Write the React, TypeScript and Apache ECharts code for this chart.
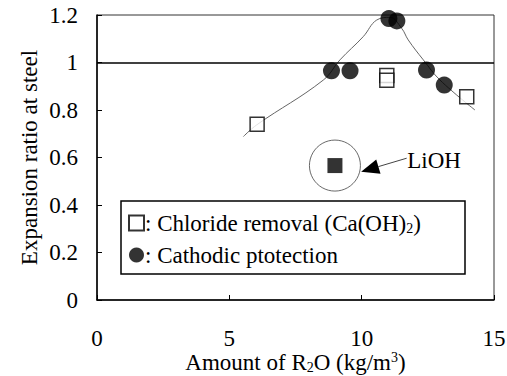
import React, { useEffect, useRef } from "react";
import * as echarts from "echarts";

const chlorideRemoval: [number, number][] = [
  [6.05, 0.74],
  [10.95, 0.945],
  [10.95, 0.925],
  [13.97, 0.856],
];
const cathodicProtection: [number, number][] = [
  [8.86, 0.965],
  [9.56, 0.965],
  [11.03, 1.185],
  [11.33, 1.175],
  [12.45, 0.968],
  [13.12, 0.905],
];
const lioh: [number, number][] = [[8.99, 0.566]];
const trendCurve: [number, number][] = [
  [5.53, 0.688],
  [6.03, 0.737],
  [8.55, 0.926],
  [9.18, 1.011],
  [10.06, 1.109],
  [10.57, 1.179],
  [11.07, 1.19],
  [11.51, 1.144],
  [11.76, 1.095],
  [12.33, 1.011],
  [12.96, 0.926],
  [14.28, 0.8],
];
const referenceLevel = 1;
const liohArrowTail: [number, number] = [11.7, 0.597];
const liohArrowTip: [number, number] = [9.98, 0.54];
const liohLabelPos: [number, number] = [11.72, 0.589];
const xTicks = [0, 5, 10, 15];
const yTicks = [0, 0.2, 0.4, 0.6, 0.8, 1, 1.2];

const FONT = "Liberation Serif";
const FS = 23;

const richStyles = {
  n: { fontFamily: FONT, fontSize: FS, lineHeight: 24, color: "#000" },
  sub: { fontFamily: FONT, fontSize: 14, verticalAlign: "bottom", lineHeight: 9, color: "#000" },
  sup: { fontFamily: FONT, fontSize: 14, verticalAlign: "top", lineHeight: 9, color: "#000" },
};

export default function App() {
  const ref = useRef<HTMLDivElement>(null);
  useEffect(() => {
    document.body.style.margin = "0";
    document.body.style.overflow = "hidden";
    if (!ref.current) return;
    const chart = echarts.init(ref.current, undefined, { renderer: "svg" });
    const option: any = {
      animation: false,
      backgroundColor: "#fff",
      textStyle: { fontFamily: FONT },
      grid: {
        left: 97,
        right: 13,
        top: 15,
        bottom: 76,
        containLabel: false,
        outerBoundsMode: "none",
        show: true,
        borderColor: "#333",
        borderWidth: 1,
      },
      legend: {
        left: 122,
        top: 211,
        orient: "vertical",
        padding: [0, 0, 0, 6],
        itemGap: 8,
        itemWidth: 15,
        itemHeight: 15,
        z: 8,
        data: [
          { name: "Chloride removal", icon: "rect" },
          { name: "Cathodic ptotection", icon: "circle" },
        ],
        formatter: (name: string) =>
          name === "Chloride removal"
            ? "{n|: Chloride removal (Ca(OH)}{sub|2}{n|)}"
            : "{n|: Cathodic ptotection}",
        textStyle: {
          fontFamily: FONT,
          fontSize: FS,
          color: "#000",
          lineHeight: 24,
          padding: [0, 0, 0, -4],
          rich: richStyles,
        },
      },
      xAxis: {
        type: "value",
        min: xTicks[0],
        max: xTicks[xTicks.length - 1],
        interval: 5,
        splitLine: { show: false },
        axisLine: { lineStyle: { color: "#000", width: 1.5 } },
        axisTick: { inside: true, length: 5, lineStyle: { color: "#000" } },
        axisLabel: { margin: 29, lineHeight: 18, fontFamily: FONT, fontSize: FS, color: "#000" },
        name: "{n|Amount of R}{sub|2}{n|O (kg/m}{sup|3}{n|)}",
        nameLocation: "middle",
        nameGap: 50,
        nameMoveOverlap: false,
        nameTextStyle: {
          fontFamily: FONT,
          fontSize: FS,
          color: "#000",
          lineHeight: 24,
          rich: richStyles,
        },
      },
      yAxis: {
        type: "value",
        min: yTicks[0],
        max: yTicks[yTicks.length - 1],
        interval: 0.2,
        splitLine: { show: false },
        axisLine: { show: true, lineStyle: { color: "#000", width: 1.5 } },
        axisTick: { show: true, inside: true, length: 5, lineStyle: { color: "#000" } },
        axisLabel: {
          margin: 19,
          fontFamily: FONT,
          fontSize: FS,
          color: "#000",
          formatter: (v: number) => String(Math.round(v * 10) / 10),
        },
        name: "Expansion ratio at steel",
        nameLocation: "middle",
        nameRotate: 90,
        nameGap: 56,
        nameMoveOverlap: false,
        nameTextStyle: { fontFamily: FONT, fontSize: FS, color: "#000" },
      },
      series: [
        {
          name: "trend",
          type: "line",
          data: trendCurve,
          smooth: 0.4,
          symbol: "none",
          lineStyle: { color: "#666", width: 1 },
          z: 1,
          markLine: {
            silent: true,
            symbol: ["none", "none"],
            label: { show: false },
            lineStyle: { color: "#000", width: 1.5, type: "solid" },
            data: [{ yAxis: referenceLevel }],
          },
        },
        {
          name: "Chloride removal",
          type: "scatter",
          data: chlorideRemoval,
          symbol: "rect",
          symbolSize: 14,
          itemStyle: { color: "#fff", borderColor: "#000", borderWidth: 1.5 },
          z: 3,
        },
        {
          name: "Cathodic ptotection",
          type: "scatter",
          data: cathodicProtection,
          symbol: "circle",
          symbolSize: 17,
          itemStyle: { color: "#000" },
          z: 4,
        },
        {
          name: "LiOH",
          type: "scatter",
          data: lioh,
          symbol: "rect",
          symbolSize: 15,
          itemStyle: { color: "#000" },
          z: 4,
        },
        {
          name: "LiOH ring",
          type: "scatter",
          data: lioh,
          symbol: "circle",
          symbolSize: 51,
          itemStyle: { color: "rgba(0,0,0,0)", borderColor: "#444", borderWidth: 1 },
          z: 2,
          silent: true,
        },
      ],
    };
    chart.setOption(option);

    const tip = chart.convertToPixel({ gridIndex: 0 }, liohArrowTip) as number[];
    const tail = chart.convertToPixel({ gridIndex: 0 }, liohArrowTail) as number[];
    const lab = chart.convertToPixel({ gridIndex: 0 }, liohLabelPos) as number[];
    const dx = tip[0] - tail[0];
    const dy = tip[1] - tail[1];
    const len = Math.sqrt(dx * dx + dy * dy);
    const ux = dx / len;
    const uy = dy / len;
    const headLen = 18;
    const headHalf = 7.5;
    const bx = tip[0] - ux * headLen;
    const by = tip[1] - uy * headLen;
    chart.setOption({
      graphic: [
        {
          type: "rect",
          shape: { x: 121, y: 201, width: 344, height: 73 },
          style: { fill: "#fff", stroke: "#000", lineWidth: 1.5 },
          z: 6,
        },
        {
          type: "line",
          shape: { x1: tail[0], y1: tail[1], x2: bx, y2: by },
          style: { stroke: "#444", lineWidth: 1 },
          z: 10,
        },
        {
          type: "polygon",
          shape: {
            points: [
              [tip[0], tip[1]],
              [bx - uy * headHalf, by + ux * headHalf],
              [bx + uy * headHalf, by - ux * headHalf],
            ],
          },
          style: { fill: "#000" },
          z: 10,
        },
        {
          type: "text",
          x: lab[0],
          y: lab[1],
          style: {
            text: "LiOH",
            fontFamily: FONT,
            fontSize: FS,
            fill: "#000",
            align: "left",
            verticalAlign: "middle",
          },
          z: 10,
        },
      ],
    });
    return () => chart.dispose();
  }, []);
  return <div ref={ref} style={{ width: 507, height: 376 }} />;
}
